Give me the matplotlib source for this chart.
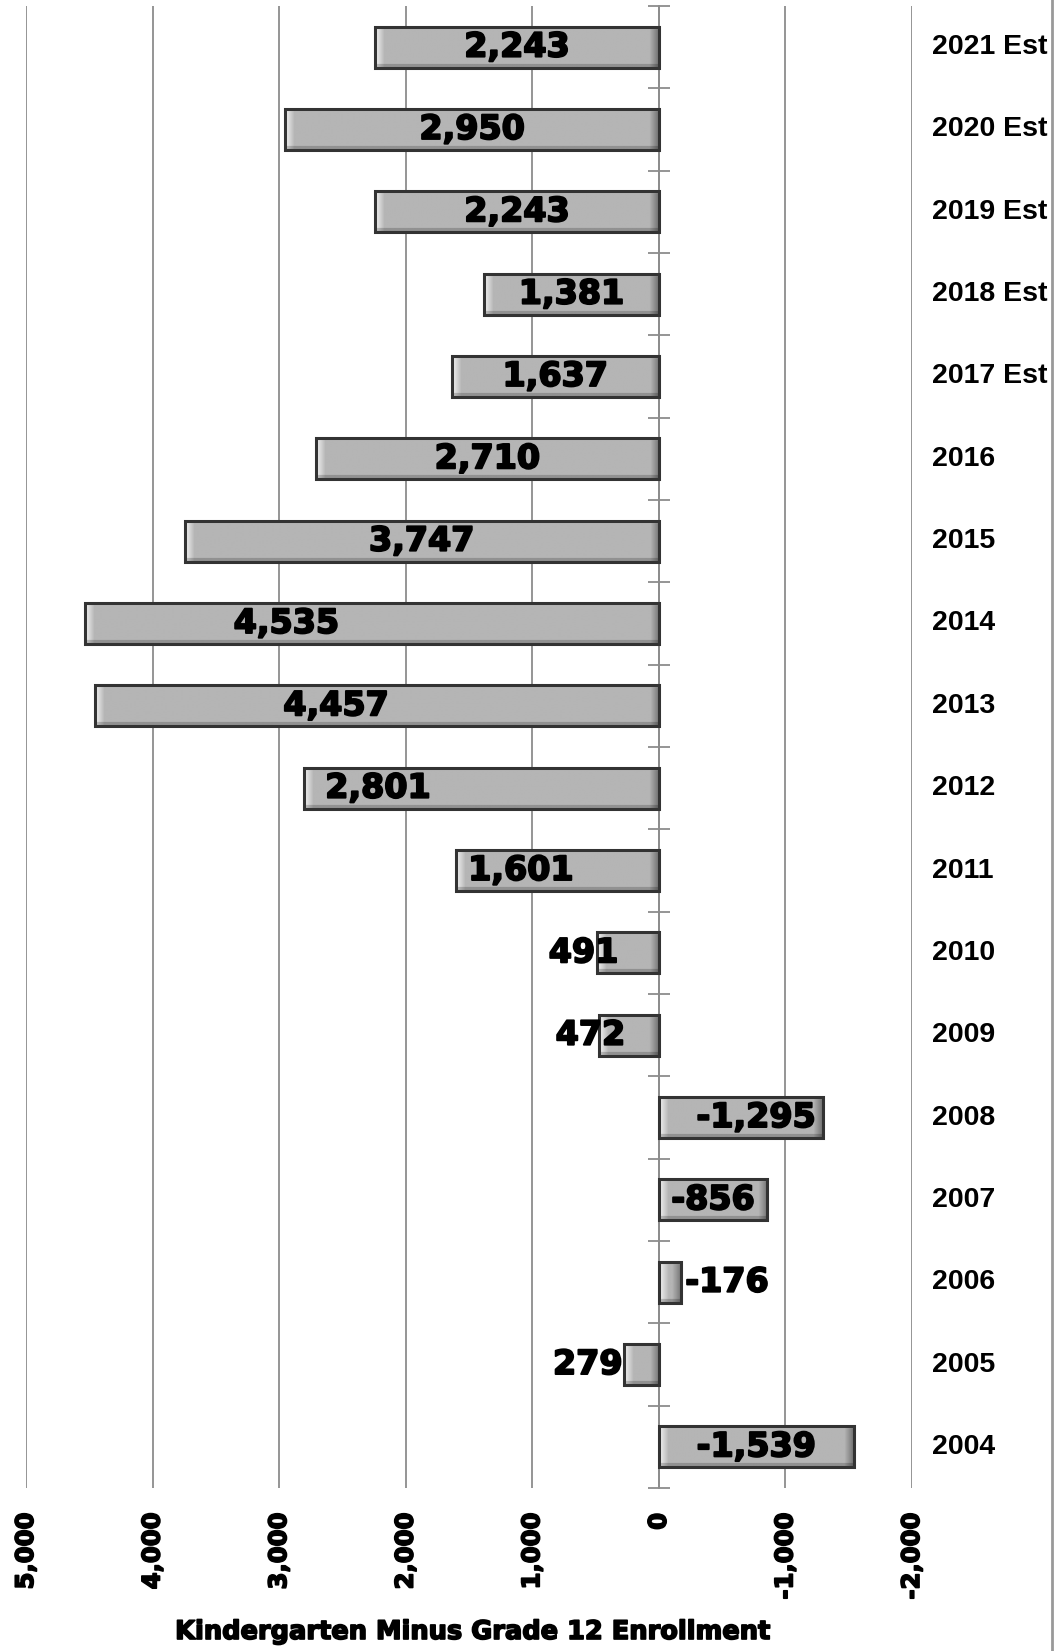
import matplotlib
matplotlib.use("Agg")
import matplotlib.pyplot as plt
import matplotlib.transforms as mtransforms
import matplotlib.patheffects as pe
from matplotlib.lines import Line2D
import numpy as np

# data: kindergarten minus grade 12 enrollment (top row first)
years = ["2021 Est", "2020 Est", "2019 Est", "2018 Est", "2017 Est", "2016",
         "2015", "2014", "2013", "2012", "2011", "2010", "2009", "2008",
         "2007", "2006", "2005", "2004"]
values = [2243, 2950, 2243, 1381, 1637, 2710, 3747, 4535, 4457, 2801,
          1601, 491, 472, -1295, -856, -176, 279, -1539]
x_ticks = [5000, 4000, 3000, 2000, 1000, 0, -1000, -2000]
x_title = "Kindergarten Minus Grade 12 Enrollment"

# hand-placed label shifts (data units, from bar centre)
label_shift = {"2014": 675, "2013": 322, "2012": 819, "2011": 290,
               "2010": 350, "2009": 305, "2008": -120, "2006": -450,
               "2005": 422}

GRID = "#8c8c8c"
FACE = "#b4b4b4"
EDGE = "#333333"
heavy = [pe.withStroke(linewidth=1.4, foreground="black")]

fig = plt.figure(figsize=(10.61, 16.51), dpi=100)
ax = fig.add_axes([0.0245, 0.0987, 0.8351, 0.8977])

n = len(years)
ypos = np.arange(n)

ax.set_xlim(5000, -2000)
ax.set_ylim(n - 0.5, -0.5)
ax.set_autoscale_on(False)

# bars: face, bevel shading, edge
bars = ax.barh(ypos, values, height=0.5, color=FACE, edgecolor="none", zorder=2)
fig.canvas.draw()
for rect, v in zip(bars, values):
    x0, y0 = ax.transData.transform((0, 0))
    x1, y1 = ax.transData.transform((v, 0.5))
    w = max(int(abs(x1 - x0)), 4)
    h = max(int(abs(y1 - y0)), 4)
    img = np.full((h, w), 0.71)
    k = min(10, w // 2)
    img[:, :k] = np.linspace(0.95, 0.71, k)[None, :]
    img[:, w - k:] = np.minimum(img[:, w - k:], np.linspace(0.71, 0.45, k)[None, :])
    img[:3, :] = np.maximum(img[:3, :], 0.8)
    img[-4:, :] *= 0.8
    left, right = max(0, v), min(0, v)
    yc = rect.get_y() + rect.get_height() / 2
    im = ax.imshow(img, cmap="gray", vmin=0, vmax=1, aspect="auto",
                   extent=(left, right, yc + 0.25, yc - 0.25),
                   interpolation="bilinear", zorder=2.5)
    im.set_clip_path(rect)
ax.barh(ypos, values, height=0.5, fill=False, edgecolor=EDGE, linewidth=2.2,
        zorder=3)

ax.set_xlim(5000, -2000)
ax.set_ylim(n - 0.5, -0.5)

# value labels
for i, (yr, v) in enumerate(zip(years, values)):
    xc = v / 2 + label_shift.get(yr, 0)
    ax.text(xc, i, f"{v:,}", ha="center", va="center", fontsize=24,
            fontweight="bold", family="DejaVu Sans", color="black", zorder=5,
            path_effects=heavy)

# year labels to the right of the plot
trans = mtransforms.blended_transform_factory(ax.transAxes, ax.transData)
for i, yr in enumerate(years):
    ax.text(1.0226, i, yr, transform=trans, ha="left", va="center",
            fontsize=20.5, fontweight="bold", family="Liberation Sans",
            color="black")

# axes styling
for s in ["top", "right", "bottom"]:
    ax.spines[s].set_visible(False)
ax.spines["left"].set_position(("data", 0))
ax.spines["left"].set_color(GRID)
ax.spines["left"].set_linewidth(1.3)
ax.spines["left"].set_zorder(1)

ax.set_yticks(np.arange(-0.5, n, 1))
ax.set_yticklabels([])
ax.tick_params(axis="y", direction="inout", length=16, width=1.3, color=GRID)

ax.set_xticks(x_ticks)
ax.set_xticklabels([f"{t:,}" for t in x_ticks], rotation=90, fontsize=17.5,
                   fontweight="bold", family="DejaVu Sans")
for lab in ax.get_xticklabels():
    lab.set_path_effects([pe.withStroke(linewidth=1.2, foreground="black")])
ax.tick_params(axis="x", length=0, pad=18)
ax.xaxis.grid(True, color=GRID, linewidth=1.3, zorder=0)
ax.set_axisbelow(True)

fig.text(0.4458, 0.0115, x_title, ha="center", va="center", fontsize=18.5,
         fontweight="bold", family="DejaVu Sans",
         path_effects=[pe.withStroke(linewidth=1.2, foreground="black")])

# right border line
fig.add_artist(Line2D([1052 / 1061, 1052 / 1061], [0, 1], color="#999999",
                      linewidth=2, transform=fig.transFigure))

fig.savefig("out.png", dpi=100)
